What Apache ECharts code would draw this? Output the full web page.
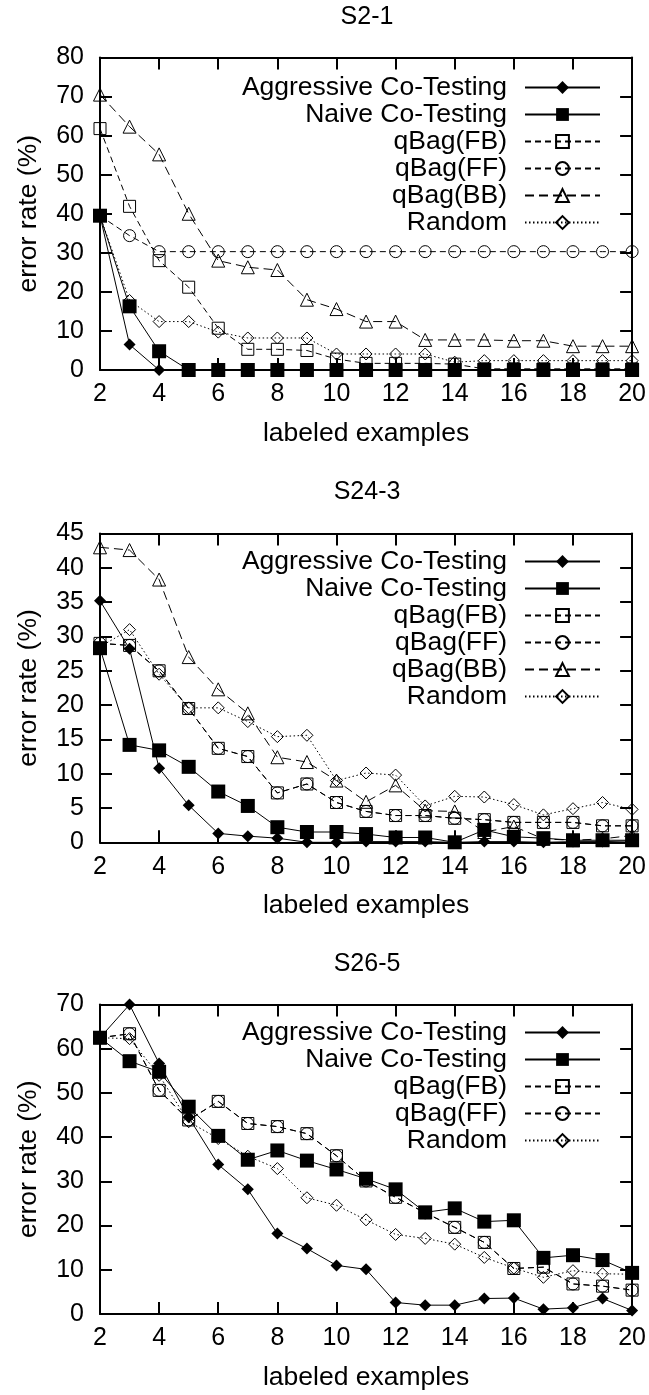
<!DOCTYPE html>
<html><head><meta charset="utf-8">
<script src="https://cdn.jsdelivr.net/npm/echarts@6/dist/echarts.min.js"></script>
<style>html,body{margin:0;padding:0;background:#fff}#c{width:649px;height:1395px}</style>
</head><body><div id="c"></div>
<script>
// ---------- data ----------
const labeledExamples = [2,3,4,5,6,7,8,9,10,11,12,13,14,15,16,17,18,19,20];
const chartTitles = ['S2-1', 'S24-3', 'S26-5'];
const xAxisTitle = 'labeled examples';
const yAxisTitle = 'error rate (%)';
const yMax = [80, 45, 70];
const yStep = [10, 5, 10];

// S2-1
const s21Aggressive = [39.5, 6.5, 0, 0, 0, 0, 0, 0, 0, 0, 0, 0, 0, 0, 0, 0, 0, 0, 0];
const s21Naive      = [39.5, 16.3, 4.8, 0, 0, 0, 0, 0, 0, 0, 0, 0, 0, 0, 0, 0, 0, 0, 0];
const s21FB         = [61.8, 41.9, 28.0, 21.2, 10.7, 5.3, 5.3, 5.0, 2.8, 1.7, 1.7, 1.7, 1.5, 0.3, 0.3, 0.3, 0.3, 0.3, 0.3];
const s21FF         = [39.5, 34.4, 30.3, 30.3, 30.3, 30.3, 30.3, 30.3, 30.3, 30.3, 30.3, 30.3, 30.3, 30.3, 30.3, 30.3, 30.3, 30.3, 30.3];
const s21BB         = [70.5, 62.3, 55.2, 40.0, 28.0, 26.3, 25.6, 18.0, 15.6, 12.4, 12.4, 7.7, 7.7, 7.7, 7.5, 7.5, 6.1, 6.1, 6.1];
const s21Random     = [39.5, 17.8, 12.4, 12.4, 9.7, 8.2, 8.2, 8.2, 4.1, 4.1, 4.1, 4.1, 2.0, 2.4, 2.4, 2.4, 2.4, 2.4, 2.4];

// S24-3
const s243Aggressive = [35.2, 28.2, 10.8, 5.4, 1.3, 0.9, 0.6, 0, 0, 0.1, 0.1, 0.1, 0, 0.1, 0.1, 0, 0.1, 0.1, 0.2];
const s243Naive      = [28.3, 14.2, 13.4, 11.0, 7.4, 5.3, 2.2, 1.5, 1.5, 1.2, 0.7, 0.7, 0, 1.8, 0.8, 0.6, 0.3, 0.3, 0.3];
const s243FB         = [29.0, 28.7, 25.0, 19.5, 13.7, 12.5, 7.2, 8.5, 5.8, 4.5, 3.9, 3.9, 3.5, 3.3, 2.9, 2.9, 2.9, 2.4, 2.4];
const s243FF         = [29.0, 28.7, 25.0, 19.5, 13.7, 12.5, 7.2, 8.5, 5.8, 4.5, 3.9, 3.9, 3.5, 3.3, 2.9, 2.9, 2.9, 2.4, 2.4];
const s243BB         = [43.0, 42.6, 38.3, 27.0, 22.3, 18.8, 12.4, 11.7, 9.0, 5.9, 8.3, 4.6, 4.5, 1.5, 2.3, 0.5, 0.3, 0.5, 1.0];
const s243Random     = [28.5, 31.0, 24.5, 19.6, 19.6, 17.6, 15.4, 15.6, 9.0, 10.1, 9.8, 5.3, 6.7, 6.6, 5.5, 4.0, 4.9, 5.8, 4.8];

// S26-5
const s265Aggressive = [62.5, 70.0, 56.7, 44.5, 33.8, 28.2, 18.2, 14.8, 11.0, 10.1, 2.6, 2.0, 2.0, 3.5, 3.6, 1.1, 1.4, 3.5, 0.8];
const s265Naive      = [62.5, 57.2, 54.8, 46.9, 40.3, 34.9, 37.0, 34.7, 32.7, 30.6, 28.2, 23.0, 23.9, 20.9, 21.2, 12.7, 13.3, 12.2, 9.3];
const s265FB         = [62.5, 63.4, 50.6, 43.9, 48.1, 43.1, 42.4, 40.8, 35.8, 30.1, 26.4, 22.9, 19.6, 16.2, 10.3, 10.6, 6.8, 6.3, 5.4];
const s265FF         = [62.5, 63.4, 50.6, 43.9, 48.1, 43.1, 42.4, 40.8, 35.8, 30.1, 26.4, 22.9, 19.6, 16.2, 10.3, 10.6, 6.8, 6.3, 5.4];
const s265Random     = [62.5, 62.3, 54.0, 43.5, 39.7, 35.7, 32.9, 26.3, 24.6, 21.3, 18.0, 17.1, 15.8, 12.8, 10.4, 8.3, 9.8, 9.1, 9.0];

const chartSeries = [
  [['Aggressive Co-Testing', s21Aggressive], ['Naive Co-Testing', s21Naive], ['qBag(FB)', s21FB], ['qBag(FF)', s21FF], ['qBag(BB)', s21BB], ['Random', s21Random]],
  [['Aggressive Co-Testing', s243Aggressive], ['Naive Co-Testing', s243Naive], ['qBag(FB)', s243FB], ['qBag(FF)', s243FF], ['qBag(BB)', s243BB], ['Random', s243Random]],
  [['Aggressive Co-Testing', s265Aggressive], ['Naive Co-Testing', s265Naive], ['qBag(FB)', s265FB], ['qBag(FF)', s265FF], ['Random', s265Random]]
];

// ---------- styles ----------
const FONT = '"Liberation Sans", Arial, Helvetica, sans-serif';
const FS = 25;
const FS_BIG = 26.5;
const styles = {
  'Aggressive Co-Testing': {symbol: 'diamond', size: 12, filled: true, dash: 'solid'},
  'Naive Co-Testing': {symbol: 'rect', size: 14, filled: true, dash: 'solid'},
  'qBag(FB)': {symbol: 'rect', size: 12, filled: false, dash: [6, 4]},
  'qBag(FF)': {symbol: 'circle', size: 12, filled: false, dash: [6, 4]},
  'qBag(BB)': {symbol: 'triangle', size: 13, filled: false, dash: [9, 5]},
  'Random': {symbol: 'diamond', size: 12, filled: false, dash: [1.5, 2.5]}
};
const grids = [
  {left: 100, top: 57.5, width: 534, height: 312.5},
  {left: 100, top: 533.6, width: 534, height: 308.7},
  {left: 100, top: 1004.6, width: 534, height: 309.4}
];
const legendTops = [74, 548, 1019];
const titleY = [17, 492, 964];

const axisLine = {show: true, onZero: false, lineStyle: {color: '#000', width: 2}};
const tick = {show: true, inside: true, length: 12, lineStyle: {color: '#000', width: 2}};
const labelStyle = {color: '#000', fontSize: FS, fontFamily: FONT};
const nameStyle = {color: '#000', fontSize: FS_BIG, fontFamily: FONT};

const xAxis = [], yAxis = [], series = [], legend = [], graphic = [];
grids.forEach((g, i) => {
  const xBase = {type: 'value', gridIndex: i, min: 2, max: 20, interval: 2, axisLine, axisTick: tick, splitLine: {show: false}};
  xAxis.push(Object.assign({}, xBase, {position: 'bottom', axisLabel: Object.assign({margin: 12}, labelStyle),
    name: xAxisTitle, nameLocation: 'middle', nameGap: 50, nameTextStyle: nameStyle}));
  xAxis.push(Object.assign({}, xBase, {position: 'top', axisLabel: {show: false}}));
  const yBase = {type: 'value', gridIndex: i, min: 0, max: yMax[i], interval: yStep[i], axisLine, axisTick: tick, splitLine: {show: false}};
  yAxis.push(Object.assign({}, yBase, {position: 'left', axisLabel: Object.assign({margin: 16}, labelStyle),
    name: yAxisTitle, nameLocation: 'middle', nameGap: 58, nameRotate: 90, nameTextStyle: nameStyle}));
  yAxis.push(Object.assign({}, yBase, {position: 'right', axisLabel: {show: false}}));

  const names = [];
  chartSeries[i].forEach(([name, vals]) => {
    const st = styles[name];
    names.push(name);
    series.push({
      type: 'line', name, xAxisIndex: 2 * i, yAxisIndex: 2 * i,
      data: labeledExamples.map((x, k) => [x, vals[k]]),
      symbol: st.symbol, symbolSize: st.size, showAllSymbol: true,
      lineStyle: {color: '#000', width: 1, type: st.dash},
      itemStyle: st.filled ? {color: '#000', borderColor: '#000', borderWidth: 0}
                           : {color: 'rgba(0,0,0,0)', borderColor: '#000', borderWidth: 1},
      emphasis: {disabled: true}, silent: true
    });
  });
  legend.push({
    data: names, orient: 'vertical', align: 'right', right: 48, top: legendTops[i],
    padding: 0, itemGap: 0, itemWidth: 75, itemHeight: 16, selectedMode: false,
    textStyle: {color: '#000', fontSize: FS_BIG, fontFamily: FONT, lineHeight: 25, padding: [0, 13, 0, 0]}
  });
  graphic.push({type: 'text', x: g.left + g.width / 2, y: titleY[i],
    style: {text: chartTitles[i], align: 'center', verticalAlign: 'middle', fill: '#000', font: FS + 'px ' + FONT}});
});

const chart = echarts.init(document.getElementById('c'), null, {renderer: 'canvas'});
chart.setOption({animation: false, backgroundColor: '#fff', grid: grids, xAxis, yAxis, series, legend, graphic});
</script></body></html>
